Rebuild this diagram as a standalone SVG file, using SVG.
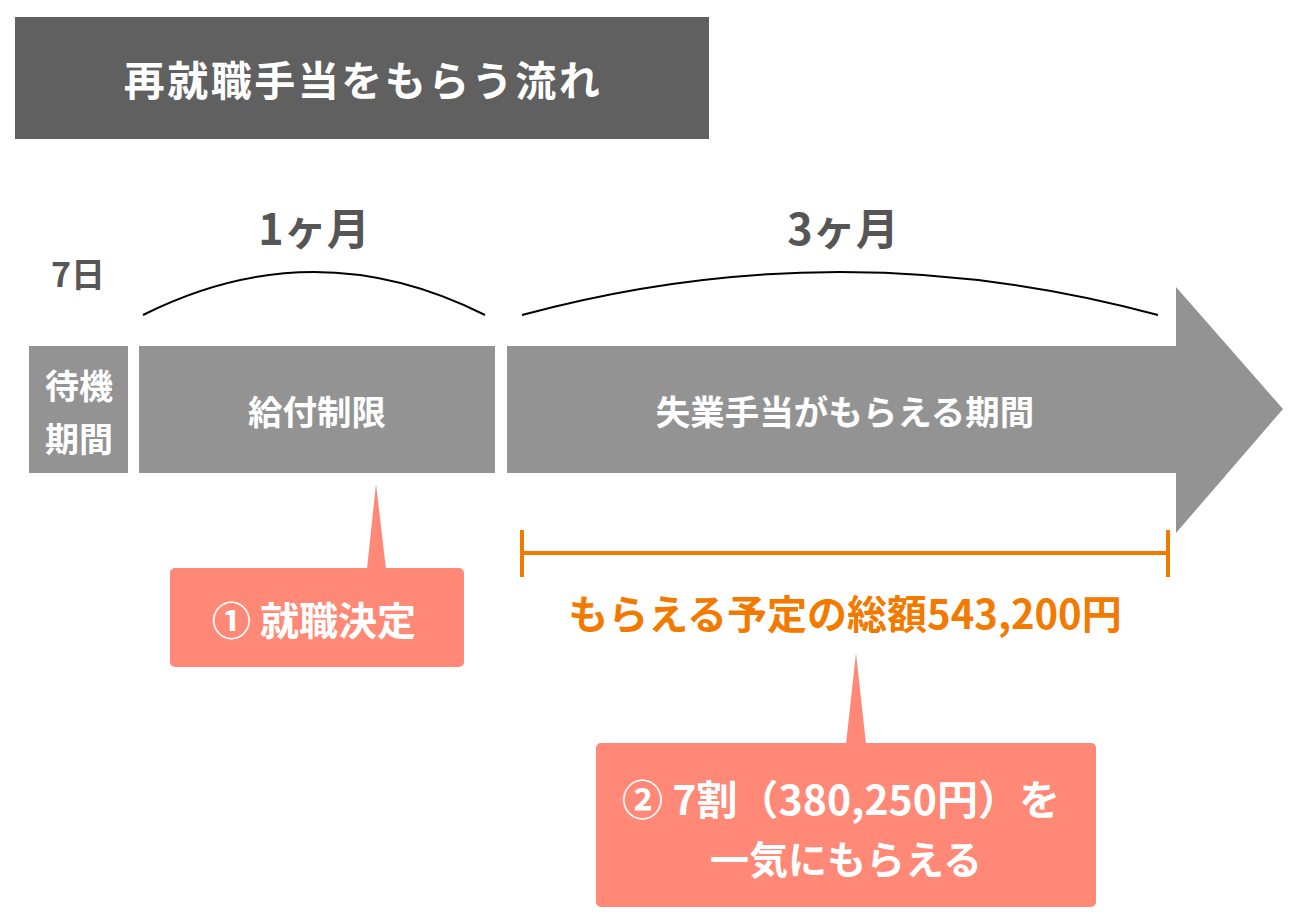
<svg xmlns="http://www.w3.org/2000/svg" width="1297" height="921" viewBox="0 0 1297 921">
  <style>
    .t { font-family: "Noto Sans CJK JP", "Noto Sans", sans-serif; font-weight: bold; text-anchor: middle; dominant-baseline: central; }
    .w { fill: #ffffff; }
    .g { fill: #565656; }
    .o { fill: #F27A00; }
    .box { fill: #939393; }
    .call { fill: #FF8876; }
    .arc { fill: none; stroke: #000000; stroke-width: 2; }
    .br { fill: none; stroke: #F27A00; stroke-width: 4; }
  </style>
  <rect width="1297" height="921" fill="#ffffff"/>

  <g id="title">
    <rect x="15" y="17" width="694" height="122" fill="#606060"/>
    <text class="t w" x="363" y="78" font-size="41" letter-spacing="2.5">再就職手当をもらう流れ</text>
  </g>

  <g id="labels">
    <text class="t g" x="78" y="272" font-size="34">7日</text>
    <text class="t g" x="314" y="226" font-size="43">1ヶ月</text>
    <text class="t g" x="843" y="226" font-size="43">3ヶ月</text>
  </g>

  <g id="connectors">
    <path class="arc" d="M143,315 Q314,229 485,315"/>
    <path class="arc" d="M522,315 Q840,229 1158,315"/>
    <path class="br" d="M522,553 H1168 M522,530 V577 M1168,530 V577"/>
  </g>

  <g id="waiting">
    <rect class="box" x="29" y="346" width="99" height="127"/>
    <text class="t w" x="79" y="384" font-size="34">待機</text>
    <text class="t w" x="79" y="437" font-size="34">期間</text>
  </g>

  <g id="restriction">
    <rect class="box" x="139" y="346" width="356" height="127"/>
    <text class="t w" x="317" y="410" font-size="34.5">給付制限</text>
  </g>

  <g id="benefit">
    <path class="box" d="M507,346 H1176 V287 L1283,409 L1176,533 V473 H507 Z"/>
    <text class="t w" x="845" y="410" font-size="34.5">失業手当がもらえる期間</text>
  </g>

  <g id="total">
    <text class="t o" x="845" y="612" font-size="40">もらえる予定の総額543,200円</text>
  </g>

  <g id="callout1">
    <path class="call" d="M376,484 L386,569 L367,569 Z"/>
    <rect class="call" x="170" y="568" width="294" height="99" rx="5"/>
    <text class="t w" x="314" y="618" font-size="39">① 就職決定</text>
  </g>

  <g id="callout2">
    <path class="call" d="M856,653 L866,744 L846,744 Z"/>
    <rect class="call" x="596" y="743" width="500" height="164" rx="5"/>
    <text class="t w" x="841" y="797" font-size="41">② 7割（380,250円）を</text>
    <text class="t w" x="846" y="857" font-size="39">一気にもらえる</text>
  </g>
</svg>
